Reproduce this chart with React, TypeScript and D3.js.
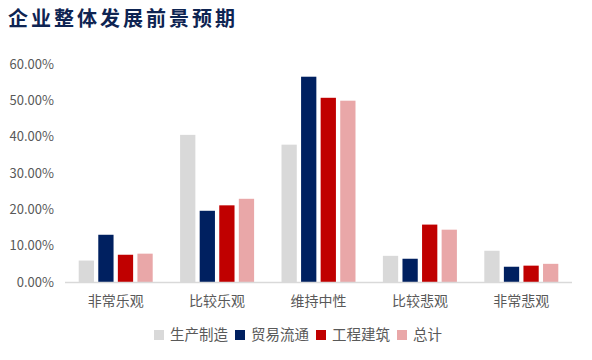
import { useEffect, useRef } from 'react'
import * as d3 from 'd3'

const W = 592
const H = 360
const M = { top: 64, right: 20, bottom: 78, left: 65 }

const title = '企业整体发展前景预期'
const categories = ['非常乐观', '比较乐观', '维持中性', '比较悲观', '非常悲观']
const seriesNames = ['生产制造', '贸易流通', '工程建筑', '总计']
const seriesColors = ['#D9D9D9', '#002060', '#C00000', '#E9A7A8']
const manufacturing = [5.9, 40.5, 37.8, 7.2, 8.6]
const trade = [13.0, 19.6, 56.5, 6.4, 4.2]
const construction = [7.5, 21.1, 50.7, 15.8, 4.5]
const total = [7.8, 22.9, 49.9, 14.4, 5.0]
const yTicks = [0, 10, 20, 30, 40, 50, 60]

const FONT = '"Noto Sans CJK SC", "Noto Sans", sans-serif'

export default function App() {
  const svgRef = useRef<SVGSVGElement>(null)

  useEffect(() => {
    if (!svgRef.current) return
    const svg = d3.select(svgRef.current)
    svg.selectAll('*').remove()

    const iw = W - M.left - M.right
    const ih = H - M.top - M.bottom
    const series = [manufacturing, trade, construction, total]

    // title
    svg.append('text')
      .attr('x', 8).attr('y', 26)
      .attr('fill', '#0E2452')
      .attr('font-family', FONT)
      .attr('font-weight', 700)
      .attr('font-size', 20)
      .attr('letter-spacing', 3)
      .text(title)

    const g = svg.append('g').attr('transform', `translate(${M.left},${M.top})`)

    const x = d3.scaleBand().domain(categories).range([0, iw]).padding(0)
    const x1 = d3.scaleBand<number>()
      .domain(d3.range(seriesNames.length))
      .range([x.bandwidth() / 2 - 37, x.bandwidth() / 2 + 37])
      .paddingInner(0.22)
      .paddingOuter(0)
    const y = d3.scaleLinear().domain([0, 60]).range([ih, 0])

    // y labels
    g.selectAll('.yl').data(yTicks).join('text')
      .attr('x', -11).attr('y', d => y(d))
      .attr('dy', '0.35em')
      .attr('text-anchor', 'end')
      .attr('fill', '#595959')
      .attr('font-family', FONT)
      .attr('font-size', 13)
      .text(d => `${d.toFixed(2)}%`)

    // bars
    categories.forEach((c, ci) => {
      series.forEach((s, si) => {
        g.append('rect')
          .attr('x', (x(c) ?? 0) + (x1(si) ?? 0))
          .attr('y', y(s[ci]))
          .attr('width', x1.bandwidth())
          .attr('height', ih - y(s[ci]))
          .attr('fill', seriesColors[si])
      })
    })

    // axis line
    g.append('line')
      .attr('x1', 0).attr('x2', iw)
      .attr('y1', ih + 0.5).attr('y2', ih + 0.5)
      .attr('stroke', '#D9D9D9').attr('stroke-width', 1.5)

    // x labels
    g.selectAll('.xl').data(categories).join('text')
      .attr('x', d => (x(d) ?? 0) + x.bandwidth() / 2)
      .attr('y', ih + 24)
      .attr('text-anchor', 'middle')
      .attr('fill', '#595959')
      .attr('font-family', FONT)
      .attr('font-size', 14)
      .text(d => d)

    // legend
    const lg = svg.append('g').attr('transform', 'translate(154,335)')
    let lx = 0
    seriesNames.forEach((name, i) => {
      lg.append('rect')
        .attr('x', lx).attr('y', -5)
        .attr('width', 10).attr('height', 10)
        .attr('fill', seriesColors[i])
      const t = lg.append('text')
        .attr('x', lx + 16).attr('y', 0)
        .attr('dy', '0.35em')
        .attr('fill', '#595959')
        .attr('font-family', FONT)
        .attr('font-size', 14.5)
        .text(name)
      const tw = (t.node() as SVGTextElement).getComputedTextLength()
      lx += 16 + tw + 7
    })
  }, [])

  return (
    <svg
      ref={svgRef}
      width={W}
      height={H}
      style={{ position: 'absolute', left: 0, top: 0, background: '#fff' }}
    />
  )
}
